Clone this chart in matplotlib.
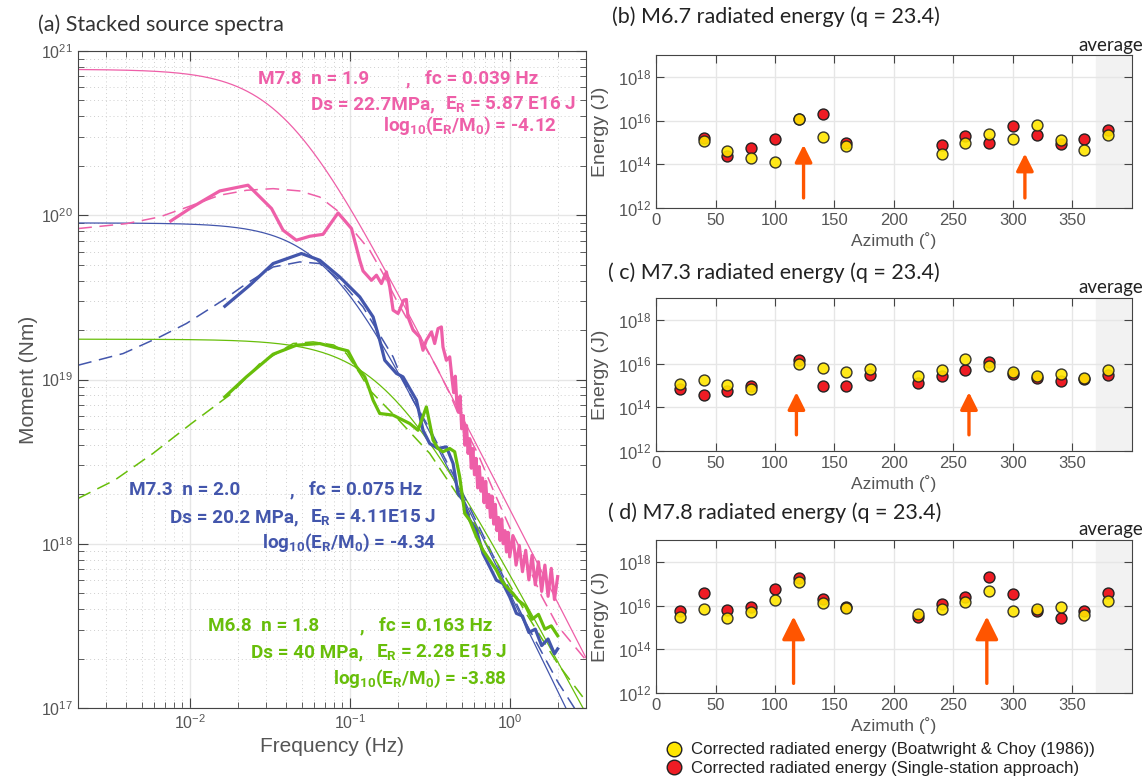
import numpy as np
import matplotlib.pyplot as plt
from matplotlib.lines import Line2D

plt.rcParams['font.family'] = ['Liberation Sans', 'DejaVu Sans']
plt.rcParams['mathtext.default'] = 'regular'

W, H = 1146, 778

def fp(x, y):
    # pixel position -> figure fraction
    return x / W, 1 - y / H

pink = '#EE5FA8'
blue = '#4356AC'
green = '#68BE0A'

# ---- (a) stacked source spectra ----
# model parameters (flat level, corner frequency, fall-off)
m0 = {'M7.8': 7.74e20, 'M7.3': 8.98e19, 'M6.8': 1.76e19}
fc = {'M7.8': 0.039, 'M7.3': 0.075, 'M6.8': 0.163}
nexp = {'M7.8': 1.9, 'M7.3': 2.0, 'M6.8': 1.8}

# observed stacked spectra (log10 f, log10 M)
pink_logf = [-2.119, -2.0, -1.8125, -1.636, -1.489, -1.417, -1.334, -1.25, -1.167, -1.073,
             -0.989, -0.9375, -0.917, -0.864, -0.833, -0.802, -0.771, -0.75, -0.729, -0.698,
             -0.6625, -0.646, -0.636, -0.604, -0.5625, -0.542, -0.521, -0.489, -0.469, -0.448,
             -0.427, -0.417, -0.396, -0.375,
             -0.36, -0.35, -0.34, -0.33, -0.32, -0.31, -0.30, -0.29, -0.28, -0.27, -0.26, -0.25,
             -0.24, -0.23, -0.22, -0.21, -0.20, -0.19, -0.18, -0.17, -0.16, -0.15, -0.14, -0.13,
             -0.12, -0.11, -0.10, -0.09, -0.08, -0.07, -0.06, -0.05, -0.04, -0.03, -0.02, -0.01,
             0.00, 0.02, 0.04, 0.06, 0.08, 0.10, 0.12, 0.14, 0.16, 0.18, 0.20, 0.22, 0.24, 0.26,
             0.28, 0.30]
pink_logm = [19.965, 20.041, 20.148, 20.183, 20.041, 19.909, 19.848, 19.872, 19.884, 20.014,
             19.919, 19.726, 19.661, 19.604, 19.635, 19.584, 19.655, 19.564, 19.422, 19.402,
             19.483, 19.487, 19.381, 19.30, 19.259, 19.178, 19.239, 19.29, 19.219, 19.31,
             19.32, 19.198, 19.117, 19.138,
             19.00, 18.92, 19.02, 18.85, 18.80, 18.90, 18.70, 18.78, 18.60, 18.72, 18.55, 18.64,
             18.46, 18.58, 18.42, 18.52, 18.34, 18.47, 18.32, 18.40, 18.25, 18.38, 18.22, 18.30,
             18.16, 18.29, 18.12, 18.24, 18.08, 18.16, 18.02, 18.15, 18.00, 18.08, 17.95, 18.07,
             17.92, 18.05, 17.87, 17.99, 17.83, 17.96, 17.78, 17.93, 17.75, 17.89, 17.71, 17.87,
             17.68, 17.85, 17.66, 17.80]

blue_logf = [-1.781, -1.625, -1.479, -1.302, -1.1875, -1.0625, -0.9375, -0.854, -0.8125, -0.781,
             -0.708, -0.667, -0.625, -0.583, -0.542, -0.5, -0.448, -0.396, -0.354, -0.323,
             -0.292, -0.25, -0.208, -0.167, -0.125, -0.083, -0.042, 0.0, 0.042, 0.08, 0.12,
             0.16, 0.20, 0.24, 0.28, 0.30]
blue_logm = [19.446, 19.574, 19.706, 19.767, 19.726, 19.624, 19.503, 19.381, 19.239, 19.117,
             19.037, 19.016, 18.945, 18.874, 18.691, 18.61, 18.58, 18.59, 18.489, 18.306,
             18.265, 18.144, 18.083, 17.941, 17.86, 17.778, 17.758, 17.677, 17.576, 17.56, 17.46,
             17.48, 17.38, 17.42, 17.33, 17.36]

green_logf = [-1.781, -1.646, -1.479, -1.333, -1.1875, -1.011, -0.958, -0.906, -0.875, -0.854,
              -0.8125, -0.729, -0.625, -0.573, -0.521, -0.479, -0.448, -0.417, -0.375, -0.344,
              -0.3125, -0.281, -0.25, -0.208, -0.167, -0.125, -0.083, -0.052, -0.021, 0.021,
              0.052, 0.10, 0.14, 0.18, 0.22, 0.26, 0.30]
green_logm = [18.894, 19.016, 19.154, 19.209, 19.219, 19.174, 19.077, 19.016, 18.935, 18.874,
              18.793, 18.783, 18.732, 18.691, 18.833, 18.631, 18.58, 18.56, 18.58, 18.56,
              18.407, 18.184, 18.144, 18.042, 17.961, 17.9, 17.839, 17.778, 17.738, 17.697,
              17.657, 17.62, 17.54, 17.57, 17.48, 17.50, 17.44]

# fitted spectra (dashed)
pinkfit_logf = [-2.698, -2.396, -2.1875, -2.0, -1.8125, -1.646, -1.479, -1.3125, -1.1875, -1.08,
                -0.979, -0.875, -0.792, -0.708, -0.625, -0.542, -0.458, -0.375, -0.3, -0.2,
                -0.1, 0.0, 0.1, 0.2, 0.3, 0.47]
pinkfit_logm = [19.919, 19.949, 19.99, 20.055, 20.122, 20.152, 20.162, 20.148, 20.111, 20.03,
                19.909, 19.787, 19.645, 19.483, 19.341, 19.219, 19.077, 18.915, 18.74, 18.55,
                18.32, 18.1, 17.9, 17.68, 17.5, 17.3]
bluefit_logf = [-2.698, -2.417, -2.1875, -2.021, -1.792, -1.646, -1.479, -1.3125, -1.1875, -1.0625,
                -0.917, -0.792, -0.729, -0.6875, -0.604, -0.5, -0.3, -0.1, 0.1, 0.3, 0.47]
bluefit_logm = [19.087, 19.158, 19.259, 19.341, 19.483, 19.584, 19.685, 19.716, 19.706, 19.604,
                19.442, 19.239, 19.138, 19.037, 18.874, 18.70, 18.32, 17.92, 17.52, 17.16, 16.9]
greenfit_logf = [-2.698, -2.47, -2.23, -1.99, -1.753, -1.5625, -1.354, -1.229, -1.10, -1.021,
                 -0.9375, -0.875, -0.7, -0.5, -0.3, -0.1, 0.1, 0.3, 0.47]
greenfit_logm = [18.276, 18.387, 18.55, 18.732, 18.904, 19.097, 19.219, 19.229, 19.21, 19.158,
                 19.037, 18.935, 18.76, 18.55, 18.26, 17.92, 17.58, 17.27, 17.05]

fig = plt.figure(figsize=(W / 100, H / 100), dpi=100)
ax = fig.add_axes([78 / W, 1 - 708 / H, (586 - 78) / W, (708 - 51) / H])

f = np.logspace(np.log10(0.002), np.log10(3), 400)
for key, col in zip(['M7.8', 'M7.3', 'M6.8'], [pink, blue, green]):
    ax.loglog(f, m0[key] / (1 + (f / fc[key]) ** nexp[key]), color=col, lw=0.9)

for lf, lm, col in [(pinkfit_logf, pinkfit_logm, pink), (bluefit_logf, bluefit_logm, blue),
                    (greenfit_logf, greenfit_logm, green)]:
    ax.loglog(10 ** np.array(lf), 10 ** np.array(lm), color=col, lw=1.1, ls=(0, (9, 5)))

for lf, lm, col in [(pink_logf, pink_logm, pink), (blue_logf, blue_logm, blue),
                    (green_logf, green_logm, green)]:
    ax.loglog(10 ** np.array(lf), 10 ** np.array(lm), color=col, lw=2.3)

ax.set_xlim(0.002, 3)
ax.set_ylim(1e17, 1e21)
ax.grid(which='major', color='#E6E6E6', lw=1)
ax.grid(which='minor', color='#CFCFCF', ls=(0, (1, 3)), lw=0.7)
ax.set_axisbelow(True)
ax.tick_params(which='both', direction='in', top=True, right=True, colors='#444',
               labelcolor='#555', labelsize=11.5)
ax.tick_params(which='major', length=7)
ax.tick_params(which='minor', length=4)
for s in ax.spines.values():
    s.set_color('#444')
ax.set_xlabel('Frequency (Hz)', fontsize=15, color='#555')
ax.set_ylabel('Moment (Nm)', fontsize=15, color='#555', labelpad=2)
fig.text(*fp(38, 25), '(a) Stacked source spectra', fontsize=15.5, color='#333',
         family=['Lato', 'DejaVu Sans'], va='center')

# event annotations: (text, x px, y px, horizontal anchor)
tfont = dict(family=['Roboto', 'DejaVu Sans'], fontweight='bold', fontsize=13.6, va='center')
notes = [
    (pink, [('M7.8  n = 1.9', 258, 79, 'left'), (',', 406, 79, 'left'),
            ('fc = 0.039 Hz', 538, 79, 'right'),
            ('Ds = 22.7MPa,', 311, 104, 'left'), ('E$_R$ = 5.87 E16 J', 576, 104, 'right'),
            ('log$_{10}$(E$_R$/M$_0$) = -4.12', 557, 126, 'right')]),
    (blue, [('M7.3  n = 2.0', 129, 490, 'left'), (',', 290, 490, 'left'),
            ('fc = 0.075 Hz', 422, 490, 'right'),
            ('Ds = 20.2 MPa,', 170, 517, 'left'), ('E$_R$ = 4.11E15 J', 436, 517, 'right'),
            ('log$_{10}$(E$_R$/M$_0$) = -4.34', 436, 543, 'right')]),
    (green, [('M6.8  n = 1.8', 208, 626, 'left'), (',', 360, 626, 'left'),
             ('fc = 0.163 Hz', 492, 626, 'right'),
             ('Ds = 40 MPa,', 251, 652, 'left'), ('E$_R$ = 2.28 E15 J', 507, 652, 'right'),
             ('log$_{10}$(E$_R$/M$_0$) = -3.88', 507, 679, 'right')]),
]
for col, parts in notes:
    for txt, x, y, ha in parts:
        fig.text(*fp(x, y), txt, color=col, ha=ha, **tfont)

# ---- (b)-(d) radiated energy vs azimuth ----
yellow = '#FFE600'
red = '#EE1C24'

az_b = [40, 60, 80, 100, 120, 140, 160, 240, 260, 280, 300, 320, 340, 360, 380]
bc_b = [15.05, 14.6, 14.29, 14.1, 16.06, 15.27, 14.84, 14.47, 14.99, 15.4, 15.14, 15.78, 15.13, 14.67, 15.33]
ss_b = [15.2, 14.4, 14.76, 15.17, 16.05, 16.29, 14.98, 14.9, 15.3, 14.99, 15.76, 15.33, 14.91, 15.16, 15.59]

az_c = [20, 40, 60, 80, 120, 140, 160, 180, 220, 240, 260, 280, 300, 320, 340, 360, 380]
bc_c = [15.08, 15.24, 15.0, 14.85, 15.97, 15.82, 15.62, 15.77, 15.42, 15.69, 16.21, 15.91, 15.62, 15.44, 15.54, 15.33, 15.69]
ss_c = [14.82, 14.55, 14.75, 14.96, 16.15, 14.96, 14.96, 15.47, 15.13, 15.44, 15.69, 16.08, 15.5, 15.34, 15.19, 15.3, 15.47]

az_d = [20, 40, 60, 80, 100, 120, 140, 160, 220, 240, 260, 280, 300, 320, 340, 360, 380]
bc_d = [15.5, 15.83, 15.42, 15.71, 16.26, 17.08, 16.14, 15.91, 15.62, 15.83, 16.15, 16.68, 15.76, 15.86, 15.94, 15.56, 16.21]
ss_d = [15.73, 16.56, 15.8, 15.95, 16.76, 17.25, 16.3, 15.92, 15.47, 16.08, 16.41, 17.29, 16.53, 15.76, 15.44, 15.77, 16.59]

# arrows: (azimuth, log10 base, log10 tip)
arrows_b = [(124, 12.46, 14.89), (310, 12.46, 14.49)]
arrows_c = [(118, 12.74, 14.69), (263, 12.74, 14.69)]
arrows_d = [(115.6, 12.44, 15.5), (278, 12.44, 15.5)]

panels = [
    ('(b) M6.7 radiated energy (q = 23.4)', az_b, bc_b, ss_b, arrows_b, 55, 612, 17, 0.75),
    ('( c) M7.3 radiated energy (q = 23.4)', az_c, bc_c, ss_c, arrows_c, 298, 608, 273, 0.75),
    ('( d) M7.8 radiated energy (q = 23.4)', az_d, bc_d, ss_d, arrows_d, 540, 608, 513, 1.0),
]

for title, az, bc, ss, arrows, top, tx, ty, hs in panels:
    a = fig.add_axes([656 / W, 1 - (top + 153) / H, (1132 - 656) / W, 153 / H])
    a.axvspan(370, 400, color='#F2F2F2', zorder=0)
    a.scatter(az, 10 ** np.array(ss), s=62, c=red, edgecolors='#222', linewidths=1.0, zorder=3)
    a.scatter(az, 10 ** np.array(bc), s=62, c=yellow, edgecolors='#222', linewidths=1.0,
              zorder=4, alpha=0.9)
    for x0, y0, y1 in arrows:
        a.annotate('', xy=(x0, 10 ** y1), xytext=(x0, 10 ** y0), zorder=5,
                   arrowprops=dict(arrowstyle='-|>,head_length=%.2f,head_width=%.2f' % (0.7 * hs, 0.35 * hs),
                                   color='#FF5500', lw=2.4, mutation_scale=20, shrinkA=0, shrinkB=0))
    a.set_yscale('log')
    a.set_xlim(0, 400)
    a.set_ylim(1e12, 1e19)
    a.set_xticks(range(0, 351, 50))
    a.set_yticks([1e12, 1e14, 1e16, 1e18])
    a.yaxis.set_minor_locator(plt.NullLocator())
    a.grid(color='#E6E6E6', lw=1)
    a.set_axisbelow(True)
    a.tick_params(direction='in', top=True, right=True, length=6, colors='#444',
                  labelcolor='#555', labelsize=12)
    for s in a.spines.values():
        s.set_color('#444')
    a.set_xlabel('Azimuth (˚)', fontsize=12.5, color='#555', labelpad=3)
    a.set_ylabel('Energy (J)', fontsize=14, color='#555')
    a.yaxis.set_label_coords(-0.098, 0.5)
    fig.text(*fp(tx, ty), title, fontsize=15.5, color='#222', family=['Lato', 'DejaVu Sans'],
             va='center')
    fig.text(*fp(1143, top - 10), 'average', fontsize=13.5, color='#222',
             family=['Lato', 'DejaVu Sans'], ha='right', va='center')

handles = [Line2D([], [], ls='none', marker='o', ms=10.5, mfc=yellow, mec='#222', mew=1.0),
           Line2D([], [], ls='none', marker='o', ms=10.5, mfc=red, mec='#222', mew=1.0)]
fig.legend(handles, ['Corrected radiated energy (Boatwright & Choy (1986))',
                     'Corrected radiated energy (Single-station approach)'],
           loc='upper left', bbox_to_anchor=fp(657, 734), frameon=False, fontsize=12.1,
           handlelength=1.0, handletextpad=0.5, labelspacing=0.2, borderpad=0,
           labelcolor='#222')

fig.savefig('out.png', dpi=100)
